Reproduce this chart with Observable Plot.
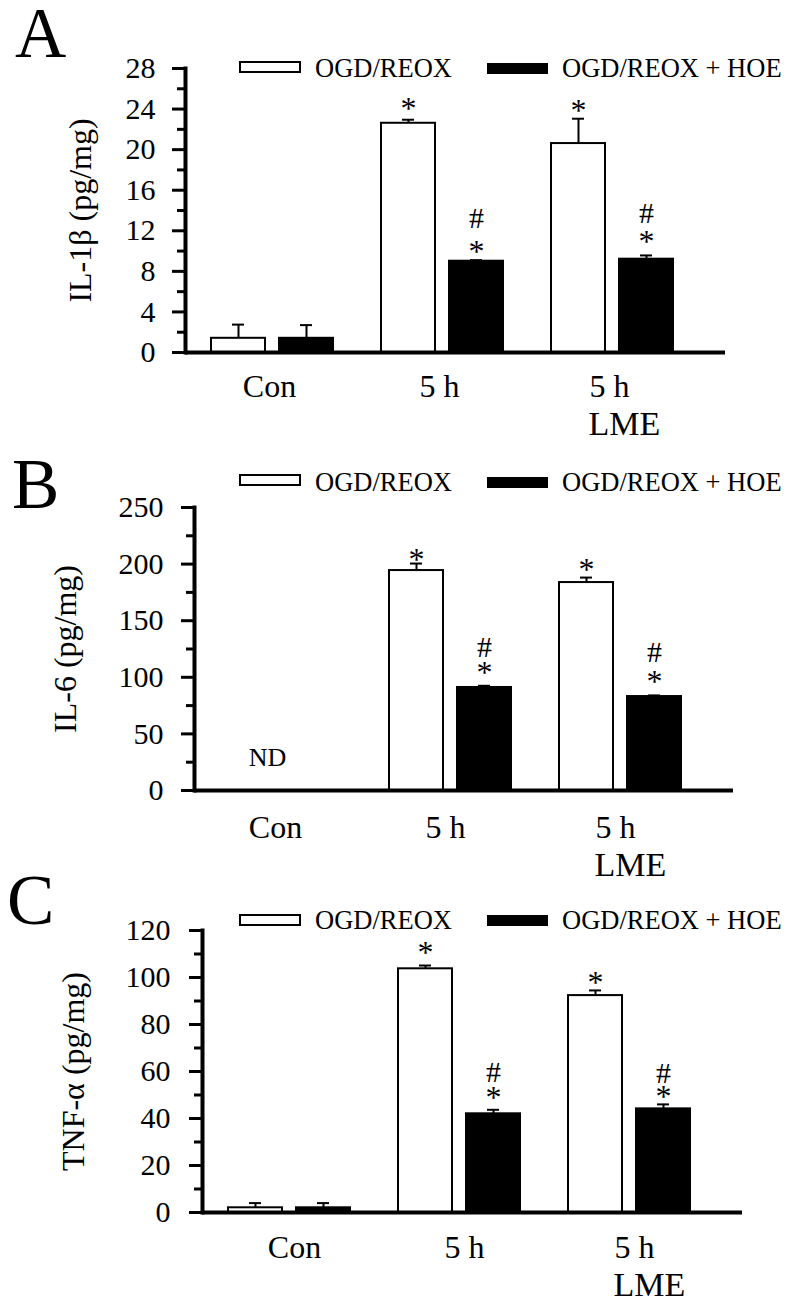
<!DOCTYPE html>
<html><head><meta charset="utf-8">
<script src="https://cdn.jsdelivr.net/npm/d3@7"></script>
<script src="https://cdn.jsdelivr.net/npm/@observablehq/plot@0.6"></script>
<style>
body{margin:0;background:#fff}
#chart svg{display:block;overflow:visible}
</style>
</head><body><div id="chart"></div>
<script>
// ---- data ----
const groups = ["Con", "5 h", "5 h LME"];
const groupLabels = ["Con", "5 h", "5 h"];
const seriesNames = ["OGD/REOX", "OGD/REOX + HOE"];

// Panel A: IL-1β
const il1bWhite = [1.4, 22.6, 20.6];
const il1bWhiteErr = [1.35, 0.35, 2.45];
const il1bBlack = [1.4, 9.0, 9.2];
const il1bBlackErr = [1.3, 0.1, 0.37];
const il1bStarWhite = [null, 24.4, 24.2];
const il1bStarBlack = [null, 10.35, 11.3];
const il1bHashBlack = [null, 13.2, 13.7];
const il1bMajor = [0, 4, 8, 12, 16, 20, 24, 28];
const il1bMinor = [2, 6, 10, 14, 18, 22, 26];

// Panel B: IL-6
const il6White = [null, 194.3, 183.7];
const il6WhiteErr = [null, 6.2, 4.4];
const il6Black = [null, 91.0, 83.0];
const il6BlackErr = [null, 1.5, 1.0];
const il6StarWhite = [null, 207.6, 198.8];
const il6StarBlack = [null, 107.8, 99.8];
const il6HashBlack = [null, 126, 122];
const il6Major = [0, 50, 100, 150, 200, 250];
const il6Minor = [25, 75, 125, 175, 225];

// Panel C: TNF-α
const tnfWhite = [2.0, 103.7, 92.3];
const tnfWhiteErr = [2.0, 1.4, 2.2];
const tnfBlack = [2.0, 42.0, 44.1];
const tnfBlackErr = [2.0, 1.7, 1.9];
const tnfStarWhite = [null, 112.3, 99.6];
const tnfStarBlack = [null, 50.6, 51.0];
const tnfHashBlack = [null, 59.6, 59.1];
const tnfMajor = [0, 20, 40, 60, 80, 100, 120];
const tnfMinor = [10, 30, 50, 70, 90, 110];

const FONT = "'Liberation Serif', 'Times New Roman', Times, serif";

function panel(o) {
  const rows = groups.map((g, i) => ({
    group: g, white: o.white[i], whiteErr: o.whiteErr[i],
    black: o.black[i], blackErr: o.blackErr[i],
    starW: o.starW[i], starB: o.starB[i], hashB: o.hashB[i]
  }));
  const W = rows.filter(d => d.white != null);
  const B = rows.filter(d => d.black != null);
  const SW = rows.filter(d => d.starW != null);
  const SB = rows.filter(d => d.starB != null);
  const HB = rows.filter(d => d.hashB != null);
  const marks = [
    Plot.barY(W, {x: "group", y: "white", fill: "white", stroke: "black", strokeWidth: 2, insetRight: 68}),
    Plot.barY(B, {x: "group", y: "black", fill: "black", stroke: "black", strokeWidth: 2, insetLeft: 68}),
    Plot.ruleX(W, {x: "group", y1: "white", y2: d => d.white + d.whiteErr, dx: -34, strokeWidth: 2}),
    Plot.tickY(W, {x: "group", y: d => d.white + d.whiteErr, insetLeft: 21, insetRight: 89, strokeWidth: 2}),
    Plot.ruleX(B, {x: "group", y1: "black", y2: d => d.black + d.blackErr, dx: 34, strokeWidth: 2}),
    Plot.tickY(B, {x: "group", y: d => d.black + d.blackErr, insetLeft: 89, insetRight: 21, strokeWidth: 2}),
    Plot.text(SW, {x: "group", y: "starW", text: () => "*", dx: -34, dy: 4, fontSize: 32}),
    Plot.text(SB, {x: "group", y: "starB", text: () => "*", dx: 34, dy: 4, fontSize: 32}),
    Plot.text(HB, {x: "group", y: "hashB", text: () => "#", dx: 34, fontSize: 30}),
    Plot.ruleY([0], {strokeWidth: 4}),
    Plot.frame({anchor: "left", strokeWidth: 4}),
    Plot.axisY({ticks: o.major, tickSize: 13, tickPadding: o.tp, fontSize: 30, strokeWidth: 3, label: null}),
    Plot.axisY({ticks: o.minor, tickSize: 8, tickFormat: () => "", strokeWidth: 3, label: null}),
    Plot.axisX({tickSize: 0, tickPadding: o.xp, fontSize: 32, dx: o.ldx, tickFormat: d => groupLabels[groups.indexOf(d)], label: null}),
    Plot.text([groups[2]], {x: d => d, text: () => "LME", frameAnchor: "bottom", textAnchor: "start", lineAnchor: "top", dy: o.xp + 36.6, dx: o.ldx - 21, fontSize: 34}),
    Plot.text([o.ylabel], {text: d => d, frameAnchor: "left", textAnchor: "middle", rotate: -90, lineAnchor: "top", dx: o.lo, fontSize: 32})
  ];
  if (o.nd) marks.push(Plot.text([groups[0]], {x: d => d, y: () => o.nd, text: () => "ND", dx: -13, fontSize: 26}));
  const plot = Plot.plot({
    width: 791, height: o.height,
    marginLeft: o.ml, marginRight: o.mr, marginTop: o.mt, marginBottom: o.mb,
    style: {fontFamily: FONT, background: "transparent", overflow: "visible", color: "black"},
    x: {domain: groups, paddingInner: 0.281, paddingOuter: 0.22, align: 0.33, label: null},
    y: {domain: o.domain, label: null},
    marks
  });
  const svg = d3.select(plot);
  const L = o.legend;
  svg.append("rect").attr("x", 240).attr("y", L.wy).attr("width", 60).attr("height", 10)
    .attr("fill", "white").attr("stroke", "black").attr("stroke-width", 2);
  svg.append("rect").attr("x", 487).attr("y", L.by).attr("width", 61).attr("height", 11)
    .attr("fill", "black");
  const addText = (x, y, t, size) => svg.append("text").attr("x", x).attr("y", y).text(t)
    .attr("font-size", size).attr("font-family", FONT).attr("fill", "black")
    .attr("text-anchor", "start");
  addText(315, L.ty, seriesNames[0], 26.5);
  addText(562, L.ty, seriesNames[1], 26.5);
  addText(o.letter.x, o.letter.y, o.letter.t, 71);
  return plot;
}

const chart = document.getElementById("chart");
chart.append(panel({
  white: il1bWhite, whiteErr: il1bWhiteErr, black: il1bBlack, blackErr: il1bBlackErr,
  starW: il1bStarWhite, starB: il1bStarBlack, hashB: il1bHashBlack,
  major: il1bMajor, minor: il1bMinor, domain: [0, 28], ylabel: "IL-1β (pg/mg)",
  height: 440, ml: 185, mr: 66, mt: 68, mb: 88, tp: 17, xp: 22, ldx: -3, lo: -117,
  legend: {wy: 62, by: 63, ty: 77}, letter: {x: 15, y: 57, t: "A"}
}));
chart.append(panel({
  white: il6White, whiteErr: il6WhiteErr, black: il6Black, blackErr: il6BlackErr,
  starW: il6StarWhite, starB: il6StarBlack, hashB: il6HashBlack,
  major: il6Major, minor: il6Minor, domain: [0, 250], ylabel: "IL-6 (pg/mg)", nd: 29,
  height: 430, ml: 194, mr: 58, mt: 67, mb: 80, tp: 18, xp: 25, ldx: -5, lo: -141,
  legend: {wy: 35, by: 37, ty: 51}, letter: {x: 12, y: 68, t: "B"}
}));
chart.append(panel({
  white: tnfWhite, whiteErr: tnfWhiteErr, black: tnfBlack, blackErr: tnfBlackErr,
  starW: tnfStarWhite, starB: tnfStarBlack, hashB: tnfHashBlack,
  major: tnfMajor, minor: tnfMinor, domain: [0, 120], ylabel: "TNF-α (pg/mg)",
  height: 435, ml: 202, mr: 49, mt: 60, mb: 93, tp: 19, xp: 23, ldx: 5, lo: -141,
  legend: {wy: 45, by: 45, ty: 59}, letter: {x: 7, y: 54, t: "C"}
}));
</script>
</body></html>
